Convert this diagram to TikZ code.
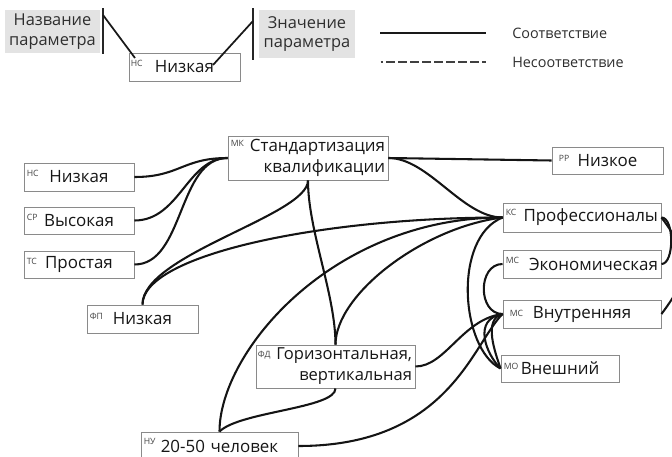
\documentclass[tikz,border=0pt]{standalone}
\usepackage{fontspec}
\setmainfont{Open Sans}
\definecolor{boxgray}{HTML}{8A8A8A}
\definecolor{legfill}{HTML}{E3E3E3}
\definecolor{txtc}{HTML}{161616}
\definecolor{taggray}{HTML}{444444}
\definecolor{legtxt}{HTML}{2E2E2E}
\begin{document}
\begin{tikzpicture}[x=0.75pt,y=-0.75pt,
  box/.style={draw=boxgray, line width=0.7pt, inner xsep=2.25pt, inner ysep=0pt,
    font=\fontsize{12.7}{15.75}\selectfont, text=txtc},
  tag/.style={font=\fontsize{6.5}{6.5}\selectfont, text=taggray, inner sep=0pt, anchor=north west},
  conn/.style={line width=1.55pt, draw=black!92},
  legbox/.style={fill=legfill, draw=none, align=center, text=legtxt,
    font=\fontsize{12.3}{14.5}\selectfont, inner sep=0pt},
  legtext/.style={font=\fontsize{10.8}{12}\selectfont, text=legtxt, anchor=west, inner sep=0pt},
  vline/.style={line width=1.6pt, draw=black!85},
  pointer/.style={line width=1.3pt, draw=black!90}
]
\useasboundingbox (0,0) rectangle (672,457);

% ---------------- legend ----------------
\node[legbox, minimum width=71.25pt, minimum height=32.25pt] (lg1) at (52.5,31.5) {Название\\параметра};
\node[legbox, minimum width=72pt, minimum height=36pt] (lg2) at (307,34) {Значение\\параметра};
\node[box, text width=78.75pt, align=center, minimum height=21pt] (ex) at (184.5,67) {Низкая};
\node[tag] (ex-tag) at ([shift={(2,7)}]ex.north west) {НС};

\coordinate (v1t) at (103,8);  \coordinate (v1b) at (103,54);
\coordinate (v2t) at (253,8);  \coordinate (v2b) at (253,60);
\coordinate (p1s) at (103,15); \coordinate (p1e) at (135,58);
\coordinate (p2s) at (253,21); \coordinate (p2e) at (213,65);
\draw[vline] (v1t) -- (v1b);
\draw[vline] (v2t) -- (v2b);
\draw[pointer] (p1s) -- (p1e);
\draw[pointer] (p2s) -- (p2e);

\coordinate (ls1) at (380,33); \coordinate (ls2) at (486,33);
\coordinate (ld0) at (380.5,62); \coordinate (ld1) at (386,62); \coordinate (ld2) at (486,62);
\draw[line width=1.6pt, draw=black!90] (ls1) -- (ls2);
\draw[line width=1.2pt, draw=black!75] (ld0) -- ++(2,0);
\draw[line width=1.2pt, draw=black!75, dash pattern=on 6.5pt off 2.5pt] (ld1) -- (ld2);
\node[legtext] (lt1) at (512,33) {Соответствие};
\node[legtext] (lt2) at (512,62) {Несоответствие};

% ---------------- main nodes ----------------
\node[box, text width=78pt, align=center, minimum height=21pt] (hs) at (79,177) {Низкая};
\node[box, text width=78pt, align=center, minimum height=20.25pt] (sr) at (79,220.5) {Высокая};
\node[box, text width=78pt, align=center, minimum height=20.25pt] (ts) at (79,264.5) {Простая};
\node[box, text width=115.5pt, align=right, minimum height=33pt] (mk) at (308,158) {Стандартизация\\квалификации};
\node[box, text width=78.75pt, align=center, minimum height=21pt] (fp) at (142.5,319) {Низкая};
\node[box, text width=78.75pt, align=center, minimum height=20.25pt] (rr) at (607.5,160.5) {Низкое};
\node[box, text width=114pt, align=right, minimum height=21.75pt] (ks) at (582,217.5) {Профессионалы};
\node[box, text width=114pt, align=right, minimum height=21pt] (ek) at (582,264) {Экономическая};
\node[box, text width=114pt, align=center, minimum height=21pt] (vn) at (582,314) {Внутренняя};
\node[box, text width=84pt, align=center, minimum height=20.25pt] (mo) at (560,368.5) {Внешний};
\node[box, text width=114.75pt, align=right, minimum height=32.25pt,
      font=\fontsize{12.4}{15.75}\selectfont] (fd) at (335.5,366.5) {Горизонтальная,\\вертикальная};
\node[box, text width=113.25pt, align=center, minimum height=21pt] (nu) at (219.5,446) {20-50 человек};

\node[tag] (hs-tag) at ([shift={(3,7)}]hs.north west) {НС};
\node[tag] (sr-tag) at ([shift={(3,7)}]sr.north west) {СР};
\node[tag] (ts-tag) at ([shift={(3,7)}]ts.north west) {ТС};
\node[tag] (mk-tag) at ([shift={(3,5)}]mk.north west) {МК};
\node[tag] (fp-tag) at ([shift={(3,8)}]fp.north west) {ФП};
\node[tag] (rr-tag) at ([shift={(7,9)}]rr.north west) {РР};
\node[tag] (ks-tag) at ([shift={(3,6)}]ks.north west) {КС};
\node[tag] (ek-tag) at ([shift={(3,7)}]ek.north west) {МС};
\node[tag] (vn-tag) at ([shift={(7,10)}]vn.north west) {МС};
\node[tag] (mo-tag) at ([shift={(3,8)}]mo.north west) {МО};
\node[tag] (fd-tag) at ([shift={(2,6)}]fd.north west) {ФД};
\node[tag] (nu-tag) at ([shift={(3,7)}]nu.north west) {НУ};

% ---------------- connectors ----------------
\draw[conn] (hs.east) .. controls +(45,0) and +(-45,0) .. (mk.west);
\draw[conn] (sr.east) .. controls +(45,0) and +(-40,0) .. (mk.west);
\draw[conn] (ts.east) .. controls +(50,0) and +(-50,0) .. (mk.west);
\draw[conn] (mk.east) -- (rr.west);
\draw[conn] (mk.east) .. controls +(40,0) and +(-40,0) .. (ks.west);
\draw[conn] (mk.south) .. controls +(0,35) and +(0,-50) .. (fp.north);
\draw[conn] (mk.south) .. controls +(0,50) and +(0,-50) .. (fd.north);
\draw[conn] (fp.north) .. controls +(0,-50) and +(-180,0) .. (ks.west);
\draw[conn] (fd.north) .. controls +(0,-50) and +(-80,10) .. (ks.west);
\draw[conn] (nu.north) .. controls +(0,-80) and +(-170,0) .. (ks.west);
\draw[conn] (fd.south) .. controls +(0,20) and +(20,-20) .. (nu.north);
\draw[conn] (ks.west) .. controls +(-50,20) and +(-40,-20) .. (mo.west);
\draw[conn] (ek.west) .. controls +(-25,0) and +(-25,0) .. (vn.west);
\draw[conn] (fd.east) .. controls +(30,0) and +(-40,5) .. (vn.west);
\draw[conn] (nu.east) .. controls +(150,0) and +(-30,30) .. (vn.west);
\draw[conn] (vn.west) .. controls +(-30,5) and +(-15,-15) .. (mo.west);
\draw[conn] (vn.west) .. controls +(-20,5) and +(-5,-15) .. (mo.west);
\draw[conn] (ks.east) .. controls +(13,0) and +(13,0) .. (ek.east);
\draw[conn] (vn.east) .. controls +(30,-40) and +(30,40) .. (ks.east);
\end{tikzpicture}
\end{document}
